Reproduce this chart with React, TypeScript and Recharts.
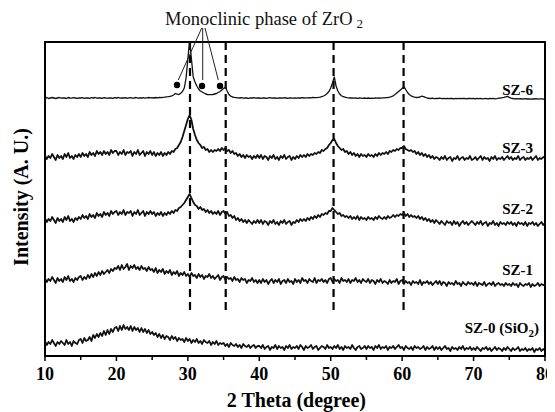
import React from 'react';
import {
  LineChart,
  Line,
  XAxis,
  YAxis,
  ReferenceLine,
  ReferenceDot,
  ReferenceArea,
} from 'recharts';

const SERIF = "'Times New Roman', 'Liberation Serif', 'DejaVu Serif', serif";

// Scan grid: 10–80° 2θ, 0.25° step
const scanStart = 10;
const scanStep = 0.25;

// Stacked intensities (a.u., offset per sample), one row per 5°
const sz6 = [
  258, 258.5, 257.5, 258, 258.5, 258, 257.5, 258, 258.5, 257.8, 258.2, 258, 257.5, 258.5, 258, 257.8, 258.3, 258, 257.6, 258.2,
  258, 258.4, 257.7, 258.2, 258, 257.6, 258.3, 258, 258.5, 257.8, 258.1, 258, 257.6, 258.4, 258, 257.8, 258.2, 258, 257.7, 258.3,
  258, 258.5, 257.8, 258.2, 258, 258.4, 257.7, 258.1, 258.3, 257.9, 258, 258.5, 257.8, 258.2, 258, 258.4, 257.9, 258.2, 258.5, 258.1,
  258.3, 258, 258.5, 258.2, 258.5, 258.3, 258.7, 258.9, 259.2, 259.4, 259.7, 260.2, 261, 262.5, 261.8, 261.5, 262.8, 264.5, 268, 278,
  297, 316, 297, 279, 274, 270, 267, 265, 264, 263, 262, 261.5, 261.3, 261.3, 261.5, 262, 262.5, 263.5, 264.5, 266,
  267.5, 269, 265, 261.5, 259.8, 259, 258.6, 258.4, 258.2, 258, 258.3, 257.9, 258.2, 258, 257.7, 258.1, 258, 258.3, 257.8, 258.1,
  258, 257.7, 258.2, 258, 257.6, 258.1, 258.3, 257.8, 258, 258.2, 257.7, 258.1, 258, 257.8, 258.3, 258, 257.6, 258.2, 258, 257.9,
  258.1, 257.8, 258.2, 258, 258.3, 258, 258.2, 258.1, 258.4, 258.2, 258.5, 258.3, 258.4, 258.6, 258.9, 259.4, 260, 261, 262.5, 264.5,
  268, 273, 279, 270, 265, 262, 260.3, 259.3, 258.8, 258.4, 258.2, 258, 258.2, 257.8, 258, 257.7, 258, 257.8, 257.6, 258,
  257.7, 258, 257.6, 257.9, 257.7, 258, 257.8, 258.1, 257.9, 258.2, 258.1, 258.4, 258.5, 258.8, 259.3, 260.2, 261.5, 263, 264.5, 266,
  267.5, 269.5, 266.5, 263.5, 261.5, 260.2, 259.3, 258.8, 258.5, 258.6, 259, 259.8, 259.4, 258.6, 258, 257.7, 257.5, 257.8, 257.4, 257.7,
  257.5, 257.8, 257.3, 257.6, 257.4, 257.7, 257.3, 257.6, 257.5, 257.2, 257.6, 257.4, 257.7, 257.3, 257.5, 257.6, 257.2, 257.5, 257.7, 257.3,
  257.5, 257.2, 257.6, 257.3, 257.5, 257.1, 257.4, 257.6, 257.2, 257.5, 257.3, 257.6, 257.2, 257.4, 257.8, 258, 258.3, 258.7, 259.2, 259.6,
  258.6, 257.9, 257.5, 257.2, 257.4, 257.1, 257.3, 257, 257.2, 257.4, 257, 257.2, 256.9, 257.2, 257, 257.3, 256.9, 257.1, 257.2, 256.9,
  257,
];

const sz3 = [
  201, 197, 200, 198, 202, 199, 196, 201, 198, 200, 197, 202, 199, 203, 198, 200, 197, 201, 199, 202,
  199, 203, 200, 202, 199, 204, 201, 203, 200, 205, 202, 204, 201, 205, 202, 204, 201, 206, 203, 205,
  205, 201, 204, 202, 206, 201, 204, 203, 205, 200, 204, 202, 206, 201, 203, 205, 200, 204, 202, 205,
  201, 204, 200, 203, 201, 204, 200, 203, 201, 204, 202, 205, 204, 207, 208, 211, 214, 219, 225, 231,
  237, 241, 236, 227, 221, 216, 213, 211, 208, 209, 206, 207, 204, 206, 204, 206, 205, 207, 205, 208,
  206, 208, 205, 206, 203, 205, 202, 203, 200, 202, 199, 201, 198, 201, 199, 200, 197, 200, 198, 201,
  198, 201, 197, 200, 199, 196, 200, 198, 201, 197, 199, 196, 200, 198, 201, 197, 199, 200, 196, 199,
  197, 200, 198, 201, 199, 201, 199, 202, 200, 202, 201, 203, 202, 204, 203, 206, 205, 207, 208, 211,
  213, 216, 217, 213, 210, 208, 206, 207, 204, 205, 202, 204, 201, 203, 200, 202, 199, 202, 200, 201,
  199, 202, 200, 201, 199, 202, 200, 203, 201, 203, 202, 204, 202, 205, 204, 206, 205, 207, 206, 208,
  208, 210, 207, 206, 205, 206, 204, 205, 202, 204, 201, 203, 200, 202, 199, 201, 198, 200, 197, 199,
  198, 196, 199, 197, 200, 196, 198, 199, 195, 198, 197, 200, 196, 198, 199, 196, 198, 197, 200, 196,
  197, 199, 196, 198, 200, 196, 199, 197, 198, 195, 199, 197, 200, 196, 198, 197, 199, 196, 198, 200,
  197, 199, 196, 198, 197, 200, 196, 198, 199, 196, 198, 197, 199, 196, 198, 200, 196, 198, 197, 199,
  198,
];

const sz2 = [
  138, 134, 137, 135, 139, 136, 133, 138, 135, 137, 134, 139, 136, 140, 135, 137, 134, 138, 136, 139,
  137, 141, 138, 140, 137, 142, 139, 141, 138, 143, 140, 142, 139, 144, 141, 143, 140, 145, 142, 144,
  145, 141, 144, 142, 146, 141, 144, 143, 145, 140, 144, 142, 146, 141, 143, 145, 140, 144, 142, 145,
  142, 144, 140, 143, 141, 144, 140, 143, 141, 144, 142, 145, 143, 146, 145, 148, 149, 151, 153, 156,
  159, 162, 158, 154, 151, 150, 147, 149, 146, 147, 144, 146, 143, 145, 142, 144, 142, 145, 141, 144,
  145, 142, 144, 140, 141, 138, 140, 136, 138, 135, 137, 134, 136, 133, 136, 134, 132, 135, 133, 136,
  133, 136, 132, 135, 134, 131, 135, 133, 136, 132, 134, 131, 135, 133, 136, 132, 134, 135, 131, 134,
  133, 136, 134, 137, 135, 137, 135, 138, 136, 139, 137, 140, 138, 141, 139, 142, 141, 143, 142, 145,
  145, 148, 146, 144, 142, 143, 140, 141, 139, 140, 138, 140, 137, 139, 137, 140, 136, 139, 137, 138,
  136, 139, 137, 138, 136, 139, 137, 140, 138, 137, 139, 137, 140, 138, 139, 141, 139, 141, 140, 142,
  141, 143, 140, 142, 139, 141, 139, 140, 138, 140, 137, 139, 136, 138, 135, 137, 134, 136, 133, 136,
  134, 132, 135, 133, 131, 135, 133, 134, 131, 135, 132, 134, 130, 133, 135, 132, 134, 131, 133, 135,
  133, 131, 134, 132, 135, 131, 133, 134, 130, 133, 132, 135, 131, 133, 130, 134, 132, 133, 131, 134,
  132, 134, 131, 133, 130, 134, 132, 133, 131, 134, 130, 133, 132, 134, 131, 133, 130, 132, 134, 131,
  133,
];

const sz1 = [
  78, 74, 77, 75, 79, 76, 73, 78, 75, 77, 74, 79, 76, 80, 75, 77, 74, 78, 76, 79,
  80, 76, 79, 77, 81, 78, 82, 79, 83, 80, 84, 81, 85, 82, 84, 86, 83, 87, 85, 88,
  87, 90, 86, 91, 87, 89, 92, 86, 90, 88, 91, 87, 89, 86, 90, 87, 88, 85, 89, 86,
  87, 84, 88, 83, 86, 84, 87, 82, 85, 83, 86, 81, 84, 82, 85, 80, 83, 81, 84, 80,
  82, 79, 83, 80, 81, 78, 82, 79, 81, 77, 80, 79, 82, 78, 80, 77, 79, 81, 76, 79,
  80, 76, 79, 77, 78, 75, 79, 76, 77, 74, 78, 76, 77, 73, 76, 75, 78, 74, 76, 73,
  76, 73, 77, 74, 76, 72, 75, 77, 73, 76, 74, 77, 72, 75, 76, 73, 77, 74, 75, 72,
  77, 74, 76, 73, 78, 75, 76, 73, 77, 75, 74, 78, 73, 76, 75, 77, 74, 76, 73, 77,
  78, 74, 77, 75, 76, 73, 78, 75, 76, 74, 77, 73, 76, 75, 78, 74, 76, 73, 77, 75,
  74, 77, 73, 76, 75, 72, 76, 74, 77, 73, 75, 74, 72, 76, 73, 75, 74, 77, 72, 75,
  76, 72, 75, 73, 74, 71, 75, 73, 74, 72, 76, 71, 74, 73, 75, 72, 74, 71, 73, 75,
  72, 75, 71, 74, 73, 70, 74, 72, 73, 71, 75, 72, 73, 70, 74, 72, 71, 74, 72, 73,
  71, 74, 70, 73, 72, 71, 74, 70, 72, 73, 71, 74, 70, 72, 73, 71, 72, 70, 73, 71,
  72, 70, 73, 71, 72, 69, 73, 71, 70, 72, 71, 73, 69, 72, 70, 71, 73, 70, 72, 71,
  71,
];

const sz0 = [
  15, 11, 14, 12, 16, 13, 10, 14, 12, 15, 13, 11, 16, 12, 14, 10, 15, 13, 12, 16,
  17, 13, 18, 15, 16, 19, 15, 21, 18, 22, 19, 23, 20, 25, 21, 26, 22, 27, 24, 28,
  29, 25, 30, 26, 31, 27, 29, 26, 30, 25, 29, 26, 28, 24, 28, 24, 27, 23, 26, 22,
  24, 21, 23, 19, 22, 18, 21, 17, 20, 19, 16, 20, 17, 19, 15, 18, 16, 17, 14, 18,
  15, 17, 13, 16, 14, 17, 13, 15, 12, 16, 14, 13, 15, 11, 14, 12, 15, 11, 13, 12,
  13, 10, 12, 9, 13, 11, 10, 12, 9, 11, 8, 12, 10, 9, 11, 8, 10, 11, 8, 10,
  10, 8, 11, 7, 9, 10, 6, 9, 8, 11, 7, 10, 8, 9, 6, 10, 8, 11, 7, 9,
  8, 10, 7, 11, 9, 6, 10, 8, 9, 11, 7, 9, 10, 6, 8, 10, 9, 7, 11, 8,
  9, 7, 10, 8, 11, 7, 9, 6, 10, 8, 9, 7, 11, 8, 6, 9, 10, 7, 8, 10,
  7, 10, 8, 9, 6, 10, 8, 11, 7, 9, 8, 10, 6, 9, 8, 10, 7, 9, 11, 8,
  9, 6, 10, 8, 7, 9, 6, 10, 8, 9, 7, 8, 10, 6, 9, 7, 8, 10, 6, 9,
  7, 9, 6, 8, 10, 7, 8, 5, 9, 7, 8, 6, 9, 7, 10, 6, 8, 7, 9, 6,
  8, 6, 9, 7, 5, 8, 7, 9, 6, 8, 5, 7, 9, 6, 8, 7, 5, 8, 6, 9,
  7, 5, 8, 6, 7, 9, 5, 7, 6, 8, 5, 7, 6, 8, 4, 7, 6, 8, 5, 7,
  6,
];

const twoTheta = sz6.map((_, i) => scanStart + i * scanStep);

const rows = twoTheta.map((t, i) => ({
  t,
  sz0: sz0[i],
  sz1: sz1[i],
  sz2: sz2[i],
  sz3: sz3[i],
  sz6: sz6[i],
}));

// Axis settings
const xDomain: [number, number] = [10, 80];
const yDomain: [number, number] = [0, 314];
const xTicks = [10, 15, 20, 25, 30, 35, 40, 45, 50, 55, 60, 65, 70, 75, 80];

// Tetragonal ZrO2 reflections, marked with dashed guides
const guidePeaks = [30.3, 35.3, 50.4, 60.2];
const guideLow = 44;

// Monoclinic ZrO2 reflections (filled dots) and the callout pointing to them
const monoDots = [
  { t: 28.48, y: 271 },
  { t: 31.98, y: 270 },
  { t: 34.5, y: 270 },
];
const pointers = [
  [{ x: 31.94, y: 328 }, { x: 28.66, y: 276 }],
  [{ x: 32.08, y: 328 }, { x: 32.08, y: 276 }],
  [{ x: 32.4, y: 328 }, { x: 34.26, y: 276 }],
];

const sampleLabels = [
  { name: 'SZ-6', t: 78.32, y: 261 },
  { name: 'SZ-3', t: 78.32, y: 203 },
  { name: 'SZ-2', t: 78.32, y: 142 },
  { name: 'SZ-1', t: 78.32, y: 81 },
];

const traces = [
  { key: 'sz6', width: 1.3 },
  { key: 'sz3', width: 1.8 },
  { key: 'sz2', width: 1.8 },
  { key: 'sz1', width: 1.8 },
  { key: 'sz0', width: 1.8 },
];

const AxisTick = (props: any) => {
  const { x, y, payload } = props;
  const major = payload.value % 10 === 0;
  return (
    <g>
      <line x1={x} x2={x} y1={y} y2={y + (major ? 5 : 4)} stroke="#000" strokeWidth={1.5} />
      {major && (
        <text
          x={x}
          y={y + 24}
          textAnchor="middle"
          fontFamily={SERIF}
          fontWeight="bold"
          fontSize={18}
          fill="#000"
        >
          {payload.value}
        </text>
      )}
    </g>
  );
};

const boldLabel = (text: React.ReactNode, anchor: string, size = 15) => (p: any) => (
  <text
    x={p.cx}
    y={p.cy}
    textAnchor={anchor}
    fontFamily={SERIF}
    fontWeight="bold"
    fontSize={size}
    fill="#000"
  >
    {text}
  </text>
);

export default function App() {
  return (
    <div style={{ width: 547, height: 404, background: '#fff', fontFamily: SERIF }}>
      <LineChart
        width={547}
        height={404}
        data={rows}
        margin={{ top: 34, right: 10, bottom: 26, left: 37 }}
      >
        <XAxis
          dataKey="t"
          type="number"
          domain={xDomain}
          ticks={xTicks}
          interval={0}
          allowDataOverflow
          axisLine={false}
          tickLine={false}
          tickSize={0}
          tickMargin={0}
          height={30}
          tick={AxisTick}
        />
        <YAxis hide type="number" domain={yDomain} allowDataOverflow />

        {guidePeaks.map((t) => (
          <ReferenceLine
            key={t}
            segment={[
              { x: t, y: yDomain[1] },
              { x: t, y: guideLow },
            ]}
            stroke="#000"
            strokeWidth={2.2}
            strokeDasharray="8 5"
            ifOverflow="visible"
          />
        ))}

        {traces.map((s) => (
          <Line
            key={s.key}
            dataKey={s.key}
            type="linear"
            stroke="#111"
            strokeWidth={s.width}
            strokeLinejoin="round"
            dot={false}
            activeDot={false}
            isAnimationActive={false}
          />
        ))}

        {pointers.map((seg, i) => (
          <ReferenceLine
            key={`p${i}`}
            segment={seg}
            stroke="#222"
            strokeWidth={1}
            ifOverflow="visible"
          />
        ))}
        {monoDots.map((d, i) => (
          <ReferenceDot
            key={`d${i}`}
            x={d.t}
            y={d.y}
            r={3.2}
            fill="#000"
            stroke="none"
            ifOverflow="visible"
          />
        ))}

        {sampleLabels.map((l) => (
          <ReferenceDot
            key={l.name}
            x={l.t}
            y={l.y}
            r={0}
            ifOverflow="visible"
            shape={boldLabel(l.name, 'end')}
          />
        ))}
        <ReferenceDot
          x={79.16}
          y={23}
          r={0}
          ifOverflow="visible"
          shape={boldLabel(
            <>
              SZ-0 (SiO
              <tspan fontSize={11} dy={4}>2</tspan>
              <tspan dy={-4}>)</tspan>
            </>,
            'end'
          )}
        />

        <ReferenceDot
          x={26.8}
          y={331}
          r={0}
          ifOverflow="visible"
          shape={(p: any) => (
            <text x={p.cx} y={p.cy} fontFamily={SERIF} fontSize={18.5} fill="#111">
              Monoclinic phase of ZrO
              <tspan fontSize={13} dx={4} dy={3}>2</tspan>
            </text>
          )}
        />

        <ReferenceDot
          x={45.2}
          y={-51}
          r={0}
          ifOverflow="visible"
          shape={boldLabel('2 Theta (degree)', 'middle', 20)}
        />
        <ReferenceDot
          x={7.62}
          y={159}
          r={0}
          ifOverflow="visible"
          shape={(p: any) => (
            <text
              x={p.cx}
              y={p.cy}
              transform={`rotate(-90 ${p.cx} ${p.cy})`}
              textAnchor="middle"
              fontFamily={SERIF}
              fontWeight="bold"
              fontSize={20}
              fill="#000"
            >
              Intensity (A. U.)
            </text>
          )}
        />

        <ReferenceArea
          x1={xDomain[0]}
          x2={xDomain[1]}
          y1={yDomain[0]}
          y2={yDomain[1]}
          fill="none"
          fillOpacity={0}
          stroke="#000"
          strokeWidth={2}
          ifOverflow="visible"
        />
      </LineChart>
    </div>
  );
}
